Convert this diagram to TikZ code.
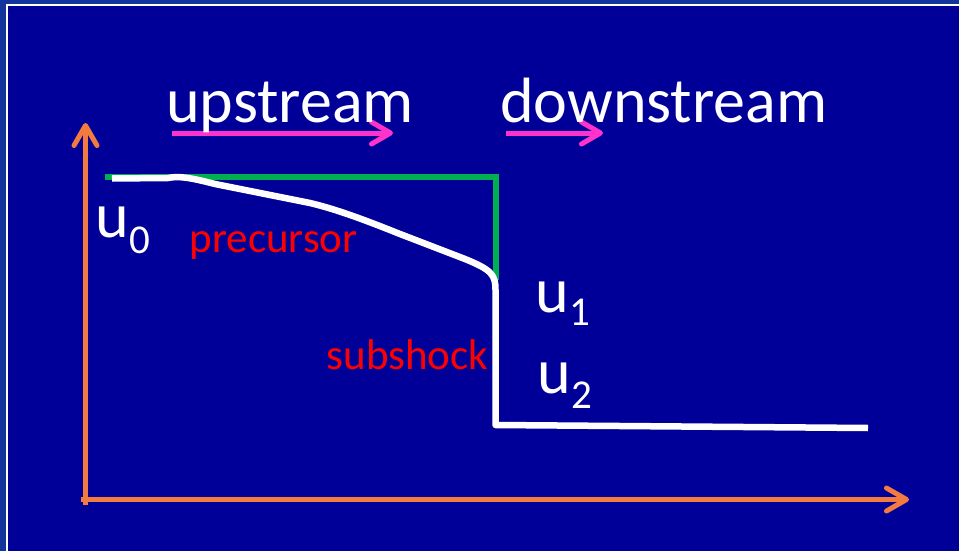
\documentclass[tikz,border=0pt]{standalone}
\usepackage{fontspec}
\setmainfont{Carlito}
\usetikzlibrary{arrows.meta}
\definecolor{bgdark}{HTML}{000099}
\definecolor{bgouter}{HTML}{12359C}
\definecolor{axisorange}{HTML}{F47B40}
\definecolor{flowpink}{HTML}{FF33CC}
\definecolor{jumpgreen}{HTML}{00B050}
\definecolor{labelred}{HTML}{FF0000}
\tikzset{
  axisline/.style={draw=axisorange, line width=5pt, -{Straight Barb[length=20pt,width=23pt,line cap=round,line join=round]}},
  flowarrow/.style={draw=flowpink, line width=5pt, -{Straight Barb[length=19pt,width=22pt,line cap=round,line join=round]}},
  bigtext/.style={text=white, inner sep=0pt, anchor=base west, font=\fontsize{64}{64}\selectfont},
  redtext/.style={text=labelred, inner sep=0pt, anchor=base west, font=\fontsize{43}{43}\selectfont},
  profile/.style={draw=white, line width=6.5pt, line join=round},
  jump/.style={draw=jumpgreen, line width=6pt}
}
\newcommand{\subsc}[2]{\raisebox{-#2}{\fontsize{41}{41}\selectfont #1}}
\begin{document}
\begin{tikzpicture}[x=1pt,y=-1pt]
\useasboundingbox (0,0) rectangle (959,551);
\fill[bgouter] (0,0) rectangle (959,551);
\fill[bgdark] (7,5.5) rectangle (959,551);
\draw[white, line width=2pt] (959,5.5) -- (7,5.5) -- (7,551);
% axes
\coordinate (yb) at (85.5,505);
\coordinate (yt) at (85.5,123);
\coordinate (xl) at (81,499.5);
\coordinate (xr) at (909,499.5);
\draw[axisline] (yb) -- (yt);
\draw[axisline] (xl) -- (xr);
% green reference
\coordinate (g0) at (105,177);
\coordinate (g1) at (495.5,177);
\coordinate (g2) at (495.5,280);
\draw[jump] (g0) -- (g1) -- (g2);
% white profile
\coordinate (w0) at (112,178.5);
\coordinate (w1) at (495.5,425);
\coordinate (w2) at (868,428);
\draw[profile] (w0) -- (168,178) .. controls (178,176) and (188,177) .. (215,184)
  -- (310,203) .. controls (335,209) and (360,218) .. (400,234)
  -- (465,259) .. controls (492,270) and (495.5,275) .. (495.5,290)
  -- (w1) -- (w2);
% flow arrows
\coordinate (p0) at (172,133);
\coordinate (p1) at (393,133);
\coordinate (p2) at (506,133);
\coordinate (p3) at (603,133);
\draw[flowarrow] (p0) -- (p1);
\draw[flowarrow] (p2) -- (p3);
% labels
\node[bigtext] (up) at (166,122) {upstream};
\node[bigtext] (down) at (500,122) {downstream};
\node[bigtext] (u0) at (95.5,237) {u\subsc{0}{16pt}};
\node[bigtext] (u1) at (535.5,312) {u\subsc{1}{13pt}};
\node[bigtext] (u2) at (537.5,393) {u\subsc{2}{15pt}};
\node[redtext] (prec) at (189.5,252) {precursor};
\node[redtext] (subs) at (326.5,369) {subshock};
\end{tikzpicture}
\end{document}
